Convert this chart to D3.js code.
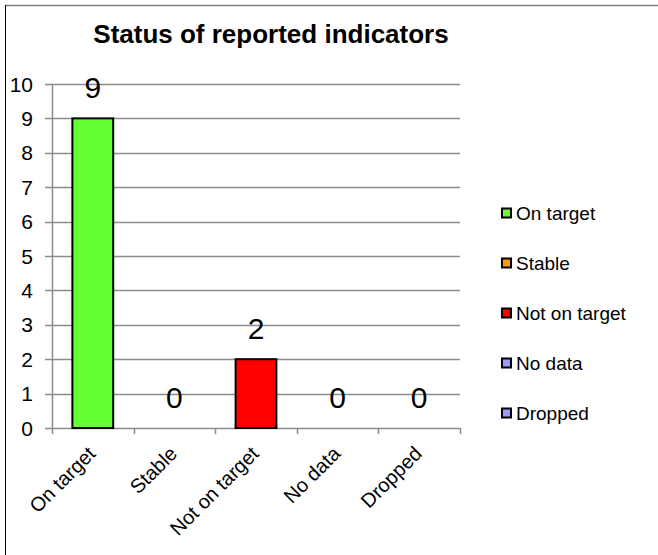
<!DOCTYPE html>
<html>
<head>
<meta charset="utf-8">
<script src="https://cdn.jsdelivr.net/npm/d3@7"></script>
<style>
  body { margin: 0; background: #fff; }
  svg { display: block; font-family: "Liberation Sans", Arial, sans-serif; }
</style>
</head>
<body>
<div id="chart"></div>
<script>
(function drawStatus(){

  var categories = ["On target", "Stable", "Not on target", "No data", "Dropped"];
  var counts = [9, 0, 2, 0, 0];
  var colours = ["#66ff33", "#ff9900", "#ff0000", "#9999ff", "#9999ff"];
  var yTicks = [0, 1, 2, 3, 4, 5, 6, 7, 8, 9, 10];

  var W = 658, H = 555;
  var margin = {top: 84, right: 198, bottom: 127, left: 52};
  var width = W - margin.left - margin.right;
  var height = H - margin.top - margin.bottom;

  var svg = d3.select("#chart")
    .append("svg")
      .attr("width", W)
      .attr("height", H);

  // outer frame (only top + left show in the original)
  svg.append("line")
    .attr("x1", 5).attr("x2", W).attr("y1", 5.5).attr("y2", 5.5)
    .attr("stroke", "#808080").attr("stroke-width", 1.5);
  svg.append("line")
    .attr("x1", 5.5).attr("x2", 5.5).attr("y1", 5).attr("y2", H)
    .attr("stroke", "#000").attr("stroke-width", 1);

  svg.append("text")
    .attr("x", 271)
    .attr("y", 43)
    .attr("text-anchor", "middle")
    .attr("font-weight", "bold")
    .attr("font-size", "26px")
    .text("Status of reported indicators");

  var g = svg.append("g")
    .attr("transform", "translate(" + [margin.left, margin.top] + ")");

  var x = d3.scaleBand()
    .domain(categories)
    .range([0, width])
    .paddingInner(0.5)
    .paddingOuter(0.25);

  var y = d3.scaleLinear()
    .domain([0, 10])
    .range([height, 0]);

  // gridlines + left ticks
  g.selectAll(".grid")
    .data(yTicks)
    .enter().append("line")
      .attr("class", "grid")
      .attr("x1", -7)
      .attr("x2", width)
      .attr("y1", function(d){ return Math.round(y(d)) + 0.5; })
      .attr("y2", function(d){ return Math.round(y(d)) + 0.5; })
      .attr("stroke", "#8c8c8c")
      .attr("stroke-width", 1.5);

  g.selectAll(".ylab")
    .data(yTicks)
    .enter().append("text")
      .attr("class", "ylab")
      .attr("x", -19)
      .attr("y", function(d){ return y(d); })
      .attr("dy", "0.36em")
      .attr("text-anchor", "end")
      .attr("font-size", "21px")
      .text(function(d){ return d; });

  // y axis line
  g.append("line")
    .attr("x1", 0.5).attr("x2", 0.5)
    .attr("y1", 0).attr("y2", height)
    .attr("stroke", "#8c8c8c").attr("stroke-width", 1.5);

  // x axis ticks at band edges
  var edges = categories.map(function(c){ return x(c) - x.step() * x.paddingInner() / 2; });
  edges.push(width);
  g.selectAll(".xtick")
    .data(edges)
    .enter().append("line")
      .attr("class", "xtick")
      .attr("x1", function(d){ return Math.round(d) + 0.5; })
      .attr("x2", function(d){ return Math.round(d) + 0.5; })
      .attr("y1", height)
      .attr("y2", height + 6)
      .attr("stroke", "#8c8c8c")
      .attr("stroke-width", 1.5);

  g.selectAll(".bar")
    .data(counts)
    .enter().append("rect")
      .attr("class", "bar")
      .attr("x", function(d, i){ return x(categories[i]); })
      .attr("width", x.bandwidth())
      .attr("y", function(d){ return y(d); })
      .attr("height", function(d){ return height - y(d); })
      .attr("fill", function(d, i){ return colours[i]; })
      .attr("stroke", "#000")
      .attr("stroke-width", function(d){ return d > 0 ? 2 : 0; });

  g.selectAll(".val")
    .data(counts)
    .enter().append("text")
      .attr("class", "val")
      .attr("x", function(d, i){ return x(categories[i]) + x.bandwidth() / 2; })
      .attr("y", function(d){ return y(d) - 20; })
      .attr("text-anchor", "middle")
      .attr("font-size", "30px")
      .text(function(d){ return d; });

  g.selectAll(".xlab")
    .data(categories)
    .enter().append("text")
      .attr("class", "xlab")
      .attr("text-anchor", "end")
      .attr("font-size", "20px")
      .attr("transform", function(d){
        return "translate(" + (x(d) + x.bandwidth() / 2 + 4) + "," + (height + 27) + ")rotate(-45)";
      })
      .text(function(d){ return d; });

  // legend
  var legend = svg.append("g")
    .attr("transform", "translate(501,213)");

  var item = legend.selectAll(".item")
    .data(categories)
    .enter().append("g")
      .attr("class", "item")
      .attr("transform", function(d, i){ return "translate(0," + (i * 50) + ")"; });

  item.append("rect")
    .attr("x", 1).attr("y", -4.5)
    .attr("width", 9).attr("height", 9)
    .attr("fill", function(d, i){ return colours[i]; })
    .attr("stroke", "#000")
    .attr("stroke-width", 2);

  item.append("text")
    .attr("x", 15)
    .attr("y", 0)
    .attr("dy", "0.36em")
    .attr("font-size", "19px")
    .text(function(d){ return d; });

})();
</script>
</body>
</html>
